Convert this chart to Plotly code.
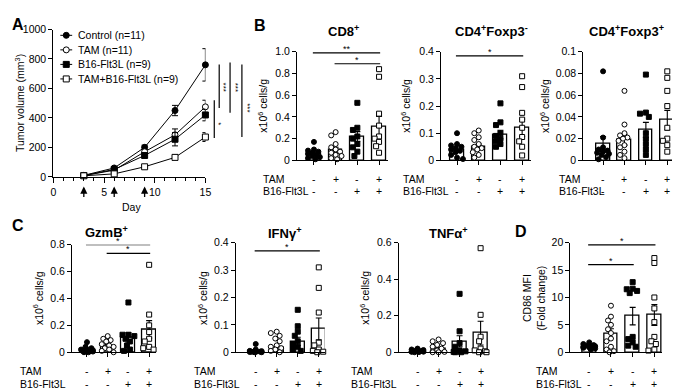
import numpy as np
import plotly.graph_objects as go

W, H = 680, 389
FONT = "Liberation Sans, Arial, sans-serif"

# ---------------- data ----------------
days = [3, 6, 9, 12, 15]
treatment_days = [3, 6, 9]
group_labels = ["Control (n=11)", "TAM (n=11)", "B16-Flt3L (n=9)", "TAM+B16-Flt3L (n=9)"]
vol_control = [10, 60, 200, 450, 760]
vol_tam = [8, 45, 170, 285, 475]
vol_flt3l = [9, 50, 145, 255, 420]
vol_combo = [7, 20, 68, 132, 270]
sem_control = [3, 8, 15, 35, 110]
sem_tam = [3, 6, 15, 40, 45]
sem_flt3l = [3, 6, 15, 45, 40]
sem_combo = [2, 4, 8, 15, 30]

tam_signs = ["-", "+", "-", "+"]
flt3l_signs = ["-", "-", "+", "+"]

cd8_means = [0.06, 0.095, 0.22, 0.31]
cd8_sem = [0.015, 0.025, 0.045, 0.095]
cd8_points = [
    [0.17, 0.10, 0.09, 0.08, 0.07, 0.06, 0.05, 0.04, 0.03, 0.02, 0.01],
    [0.26, 0.23, 0.15, 0.12, 0.10, 0.08, 0.07, 0.05, 0.04, 0.02, 0.01],
    [0.53, 0.30, 0.28, 0.22, 0.20, 0.15, 0.12, 0.08, 0.04],
    [0.84, 0.77, 0.43, 0.32, 0.22, 0.20, 0.17, 0.13, 0.07],
]
foxn_means = [0.04, 0.05, 0.095, 0.12]
foxn_sem = [0.009, 0.01, 0.016, 0.032]
foxn_points = [
    [0.10, 0.06, 0.055, 0.05, 0.045, 0.04, 0.035, 0.03, 0.02, 0.01, 0.005],
    [0.11, 0.10, 0.085, 0.075, 0.06, 0.05, 0.045, 0.04, 0.03, 0.02, 0.01],
    [0.21, 0.14, 0.13, 0.10, 0.09, 0.08, 0.07, 0.06, 0.05],
    [0.31, 0.27, 0.175, 0.15, 0.12, 0.086, 0.07, 0.05, 0.018],
]
foxp_means = [0.015, 0.019, 0.028, 0.037]
foxp_sem = [0.007, 0.005, 0.007, 0.009]
foxp_points = [
    [0.082, 0.021, 0.012, 0.010, 0.009, 0.008, 0.007, 0.006, 0.005, 0.003, 0.001],
    [0.064, 0.033, 0.025, 0.023, 0.021, 0.020, 0.018, 0.014, 0.012, 0.008, 0.005, 0.002],
    [0.079, 0.044, 0.043, 0.040, 0.025, 0.020, 0.015, 0.010, 0.005],
    [0.082, 0.076, 0.064, 0.050, 0.030, 0.020, 0.018, 0.014, 0.008],
]
gzmb_means = [0.02, 0.045, 0.11, 0.17]
gzmb_sem = [0.007, 0.012, 0.035, 0.065]
gzmb_points = [
    [0.075, 0.04, 0.03, 0.02, 0.02, 0.015, 0.01, 0.01, 0.005, 0.0, 0.0],
    [0.12, 0.10, 0.09, 0.08, 0.06, 0.05, 0.04, 0.03, 0.02, 0.01, 0.0],
    [0.37, 0.13, 0.13, 0.12, 0.10, 0.08, 0.05, 0.02, 0.01],
    [0.65, 0.28, 0.20, 0.15, 0.10, 0.08, 0.04, 0.03, 0.02],
]
ifng_means = [0.005, 0.017, 0.04, 0.085]
ifng_sem = [0.002, 0.006, 0.015, 0.04]
ifng_points = [
    [0.03, 0.01, 0.005, 0.004, 0.003, 0.002, 0.002, 0.001, 0.001, 0.0, 0.0],
    [0.075, 0.07, 0.06, 0.05, 0.04, 0.025, 0.02, 0.015, 0.01, 0.005, 0.0],
    [0.155, 0.095, 0.075, 0.06, 0.04, 0.03, 0.02, 0.01, 0.005],
    [0.31, 0.235, 0.145, 0.035, 0.025, 0.01, 0.005, 0.002, 0.0],
]
tnfa_means = [0.01, 0.02, 0.06, 0.105]
tnfa_sem = [0.002, 0.008, 0.03, 0.065]
tnfa_points = [
    [0.02, 0.015, 0.012, 0.01, 0.008, 0.005, 0.005, 0.003, 0.002, 0.001, 0.0],
    [0.07, 0.06, 0.05, 0.04, 0.03, 0.02, 0.01, 0.005, 0.002, 0.0, 0.0],
    [0.32, 0.115, 0.05, 0.03, 0.01, 0.005, 0.002, 0.0, 0.0],
    [0.57, 0.205, 0.085, 0.06, 0.02, 0.01, 0.005, 0.0, 0.0],
]
cd86_means = [1.1, 3.4, 6.6, 6.8]
cd86_sem = [0.25, 0.9, 1.6, 1.9]
cd86_points = [
    [1.8, 1.5, 1.3, 1.2, 1.1, 1.0, 0.9, 0.8, 0.7, 0.5],
    [8.5, 6.5, 5.8, 5.0, 4.2, 3.5, 2.5, 2.0, 1.0, 0.5, 0.2, 0.0],
    [12.8, 11.6, 11.5, 11.2, 10.8, 2.8, 2.4, 1.8, 1.2, 1.0],
    [17.2, 16.3, 10.0, 8.0, 5.5, 2.8, 2.0, 1.5, 0.5, 0.3],
]

# ---------------- helpers ----------------
def PX(p):
    return p / W


def PY(p):
    return 1 - p / H


fig = go.Figure()
layout = {}
annotations = []
shapes = []

fills = ["black", "white", "black", "white"]
symbols = ["circle", "circle", "square", "square"]

axis_common = dict(showline=True, linecolor="black", linewidth=1.3, ticks="outside",
                   tickcolor="black", tickwidth=1.3, ticklen=4, showgrid=False, zeroline=False,
                   tickfont=dict(family=FONT, size=10.5, color="black"), fixedrange=True)


def text(x, y, s, size=10.5, bold=False, angle=0, xanchor="center", yanchor="middle",
         xref="paper", yref="paper"):
    if bold:
        s = "<b>" + s + "</b>"
    annotations.append(dict(x=x, y=y, xref=xref, yref=yref, text=s, showarrow=False,
                            textangle=angle, xanchor=xanchor, yanchor=yanchor,
                            font=dict(family=FONT, size=size, color="black")))


# ---------------- Panel A ----------------
axL, axR, y0, yt = 43, 197, 168, 16
layout["xaxis"] = dict(axis_common, domain=[PX(axL), PX(axR)], range=[0, 15], anchor="y",
                       tickmode="linear", tick0=0, dtick=5, ticklen=5,
                       minor=dict(ticks="outside", dtick=1, tick0=0, ticklen=3,
                                  tickcolor="black", tickwidth=1.3))
layout["yaxis"] = dict(axis_common, domain=[PY(y0), PY(yt)], range=[0, 1000], anchor="x",
                       tickmode="linear", tick0=0, dtick=200)
vols = [vol_control, vol_tam, vol_flt3l, vol_combo]
sems = [sem_control, sem_tam, sem_flt3l, sem_combo]
for v, s, f, sym in zip(vols, sems, fills, symbols):
    fig.add_trace(go.Scatter(
        x=days, y=v, mode="lines+markers", xaxis="x", yaxis="y", cliponaxis=False,
        line=dict(color="black", width=1),
        marker=dict(symbol=sym, size=6, color=f, line=dict(color="black", width=1)),
        error_y=dict(type="data", array=s, color="black", thickness=1, width=3),
        showlegend=False, hoverinfo="skip"))
for d in treatment_days:
    annotations.append(dict(x=d, y=PY(178), xref="x", yref="paper", ax=0, ay=12, text="",
                            showarrow=True, arrowhead=2, arrowsize=1.1, arrowwidth=1.3,
                            arrowcolor="black"))
text(PX(122), PY(199), "Day", size=10.5)
text(PX(8), PY(92), "Tumor volume (mm<sup>3</sup>)", size=10.5, angle=-90)
text(PX(7), PY(11), "A", size=16, bold=True)

# legend built on a pixel overlay axis
layout["xaxis9"] = dict(domain=[0, 1], range=[0, W], visible=False, fixedrange=True)
layout["yaxis9"] = dict(domain=[0, 1], range=[H, 0], visible=False, fixedrange=True, anchor="x9")
leg_y = [22, 37, 52, 67]
for lab, f, sym, ly in zip(group_labels, fills, symbols, leg_y):
    fig.add_trace(go.Scatter(x=[50, 62], y=[ly, ly], mode="lines", xaxis="x9", yaxis="y9",
                             line=dict(color="black", width=1), showlegend=False, hoverinfo="skip"))
    fig.add_trace(go.Scatter(x=[56], y=[ly], mode="markers", xaxis="x9", yaxis="y9",
                             marker=dict(symbol=sym, size=6, color=f, line=dict(color="black", width=1)),
                             showlegend=False, hoverinfo="skip"))
    text(PX(66), PY(ly), lab, size=10.5, xanchor="left")

# significance marks of panel A
for (lx, ya, yb, sx, sy, st) in [(206, 89, 128, 210, 113, "*"), (211, 52, 97, 215, 75, "***"),
                                 (222, 50, 102, 227, 76, "***"), (234, 52, 127, 240, 97, "***")]:
    shapes.append(dict(type="line", xref="paper", yref="paper", x0=PX(lx), x1=PX(lx),
                       y0=PY(ya), y1=PY(yb), line=dict(color="black", width=1.2)))
    text(PX(sx), PY(sy), st, size=8, angle=90)

# ---------------- bar panels ----------------
panels = [
    dict(i=2, means=cd8_means, sem=cd8_sem, pts=cd8_points, ymax=1.0,
         ticks=[0, 0.2, 0.4, 0.6, 0.8, 1.0], labels=["0", "0.2", "0.4", "0.6", "0.8", "1.0"],
         title="CD8<sup>+</sup>", geo=(290, 307, 22, 382, 151, 39), title_xy=(337, 18),
         ytitle_x=254, row_x=253, rows=(170, 183),
         sig=[(0, 3, 0.99, "**"), (1, 3, 0.89, "*")], ytitle="x10<sup>6</sup> cells/g"),
    dict(i=3, means=foxn_means, sem=foxn_sem, pts=foxn_points, ymax=0.4,
         ticks=[0, 0.1, 0.2, 0.3, 0.4], labels=["0", "0.1", "0.2", "0.3", "0.4"],
         title="CD4<sup>+</sup>Foxp3<sup>-</sup>", geo=(436, 452, 22, 527, 151, 39),
         title_xy=(487, 18), ytitle_x=399, row_x=395, rows=(170, 183),
         sig=[(0, 3, 0.385, "*")], ytitle="x10<sup>6</sup> cells/g"),
    dict(i=4, means=foxp_means, sem=foxp_sem, pts=foxp_points, ymax=0.1,
         ticks=[0, 0.02, 0.04, 0.06, 0.08, 0.1], labels=["0", "0.02", "0.04", "0.06", "0.08", "0.1"],
         title="CD4<sup>+</sup>Foxp3<sup>+</sup>", geo=(580, 600, 21.7, 675, 151, 39),
         title_xy=(624, 18), ytitle_x=540, row_x=553, rows=(170, 183),
         sig=[], ytitle="x10<sup>6</sup> cells/g"),
    dict(i=5, means=gzmb_means, sem=gzmb_sem, pts=gzmb_points, ymax=0.8,
         ticks=[0, 0.2, 0.4, 0.6, 0.8], labels=["0", "0.2", "0.4", "0.6", "0.8"],
         title="GzmB<sup>+</sup>", geo=(62, 77, 21, 147, 349, 238), title_xy=(97, 225),
         ytitle_x=27, row_x=7, rows=(368, 382),
         sig=[(0, 3, 0.8, "*"), (1, 3, 0.735, "*")], ytitle="x10<sup>6</sup> cells/g"),
    dict(i=6, means=ifng_means, sem=ifng_sem, pts=ifng_points, ymax=0.4,
         ticks=[0, 0.1, 0.2, 0.3, 0.4], labels=["0", "0.1", "0.2", "0.3", "0.4"],
         title="IFNγ<sup>+</sup>", geo=(228, 248, 21.3, 318, 349, 236), title_xy=(277, 226),
         ytitle_x=194, row_x=183, rows=(368, 382),
         sig=[(0, 3, 0.37, "*")], ytitle="x10<sup>6</sup> cells/g"),
    dict(i=7, means=tnfa_means, sem=tnfa_sem, pts=tnfa_points, ymax=0.6,
         ticks=[0, 0.2, 0.4, 0.6], labels=["0", "0.2", "0.4", "0.6"],
         title="TNFα<sup>+</sup>", geo=(393, 412, 21.3, 484, 349, 236), title_xy=(443, 226),
         ytitle_x=358, row_x=343, rows=(368, 382),
         sig=[], ytitle="x10<sup>6</sup> cells/g"),
    dict(i=8, means=cd86_means, sem=cd86_sem, pts=cd86_points, ymax=20,
         ticks=[0, 5, 10, 15, 20], labels=["0", "5", "10", "15", "20"],
         title="", geo=(567, 586, 22, 660, 349, 236), title_xy=(613, 226),
         ytitle_x=531, row_x=530, rows=(368, 382),
         sig=[(0, 3, 19.6, "*"), (0, 2, 16.0, "*")], ytitle="CD86 MFI<br>(Fold change)"),
]


def swarm(vals, unit_px, cat_px, d=5.0, maxoff=6.0):
    ys = np.asarray(vals, float) * unit_px
    order = np.argsort(-ys, kind="stable")
    placed = []
    offs = np.zeros(len(ys))
    cands = [0.0]
    k = 1
    while k * 1.5 <= maxoff:
        cands += [-k * 1.5, k * 1.5]
        k += 1
    for idx in order:
        best, best_score = 0.0, None
        for c in cands:
            pen = 0.0
            for px, py in placed:
                dist = np.hypot(c - px, ys[idx] - py)
                if dist < d:
                    pen += (d - dist)
            score = pen + 0.05 * abs(c)
            if best_score is None or score < best_score - 1e-9:
                best, best_score = c, score
        offs[idx] = best
        placed.append((best, ys[idx]))
    return offs / cat_px


for p in panels:
    i = p["i"]
    aL, b0, sp, aR, y0, yt = p["geo"]
    xr = [-(b0 - aL) / sp, 3 + (aR - (b0 + 3 * sp)) / sp]
    layout[f"xaxis{i}"] = dict(axis_common, domain=[PX(aL), PX(aR)], range=xr, anchor=f"y{i}",
                               tickmode="array", tickvals=[0, 1, 2, 3], showticklabels=False)
    layout[f"yaxis{i}"] = dict(axis_common, domain=[PY(y0), PY(yt)], range=[0, p["ymax"]],
                               anchor=f"x{i}", tickmode="array", tickvals=p["ticks"],
                               ticktext=p["labels"])
    fig.add_trace(go.Bar(x=[0, 1, 2, 3], y=p["means"], width=14 / sp, xaxis=f"x{i}", yaxis=f"y{i}",
                         marker=dict(color="white", line=dict(color="black", width=1.3)),
                         error_y=dict(type="data", array=p["sem"], color="black", thickness=1.1,
                                      width=3),
                         showlegend=False, hoverinfo="skip"))
    unit_px = (y0 - yt) / p["ymax"]
    for g, vals in enumerate(p["pts"]):
        off = swarm(vals, unit_px, sp)
        fig.add_trace(go.Scatter(x=g + off, y=vals, mode="markers", xaxis=f"x{i}", yaxis=f"y{i}",
                                 cliponaxis=False,
                                 marker=dict(symbol=symbols[g], size=5, color=fills[g],
                                             line=dict(color="black", width=1)),
                                 showlegend=False, hoverinfo="skip"))
    # row labels
    text(PX(p["row_x"]), PY(p["rows"][0]), "TAM", xanchor="left")
    text(PX(p["row_x"]), PY(p["rows"][1]), "B16-Flt3L", xanchor="left")
    for g in range(4):
        text(g, PY(p["rows"][0]), tam_signs[g], xref=f"x{i}")
        text(g, PY(p["rows"][1]), flt3l_signs[g], xref=f"x{i}")
    if p["title"]:
        text(PX(p["title_xy"][0]), PY(p["title_xy"][1]), p["title"], size=13, bold=True)
    text(PX(p["ytitle_x"]), PY((y0 + yt) / 2), p["ytitle"], size=10.5, angle=-90)
    for (a, b, yv, st) in p["sig"]:
        shapes.append(dict(type="line", xref=f"x{i}", yref=f"y{i}", x0=a - 0.05, x1=b + 0.05,
                           y0=yv, y1=yv, line=dict(color="black", width=1.2)))
        annotations.append(dict(x=(a + b) / 2, y=yv, xref=f"x{i}", yref=f"y{i}", text=st,
                                showarrow=False, yanchor="bottom", yshift=-3,
                                font=dict(family=FONT, size=9, color="black")))

text(PX(252), PY(12), "B", size=16, bold=True)
text(PX(7), PY(218), "C", size=16, bold=True)
text(PX(517), PY(224), "D", size=16, bold=True)

fig.update_layout(width=W, height=H, margin=dict(l=0, r=0, t=0, b=0),
                  plot_bgcolor="rgba(0,0,0,0)", paper_bgcolor="white", showlegend=False,
                  annotations=annotations, shapes=shapes, bargap=0,
                  font=dict(family=FONT, color="black"), **layout)
fig.write_html("out.html")
